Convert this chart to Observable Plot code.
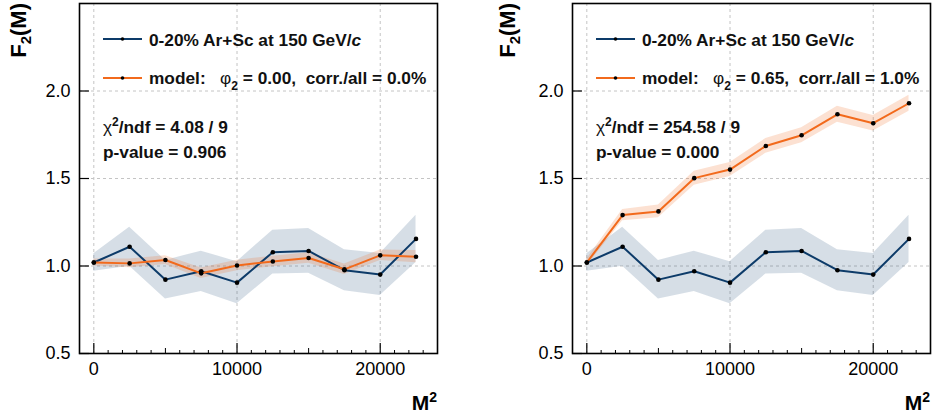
<!DOCTYPE html>
<html>
<head>
<meta charset="utf-8">
<script src="https://cdn.jsdelivr.net/npm/d3@7"></script>
<script src="https://cdn.jsdelivr.net/npm/@observablehq/plot@0.6"></script>
<style>
  html, body { margin: 0; padding: 0; background: #fff; }
  #wrap { position: relative; width: 933px; height: 417px; overflow: hidden; background: #fff; }
  #wrap svg { position: absolute; top: 0; }
  text { font-family: "Liberation Sans", Arial, Helvetica, sans-serif; }
</style>
</head>
<body>
<div id="wrap"></div>
<script>
// ---- data ----
const mSquared = [0, 2500, 5000, 7500, 10000, 12500, 15000, 17500, 20000, 22500];
const dataF2   = [1.02, 1.11, 0.922, 0.97, 0.905, 1.079, 1.086, 0.976, 0.951, 1.155];
const dataErr  = [0.05, 0.112, 0.11, 0.115, 0.12, 0.125, 0.128, 0.117, 0.12, 0.135];

const modelF2_phi000  = [1.02, 1.015, 1.034, 0.958, 1.003, 1.026, 1.046, 0.981, 1.061, 1.053];
const modelErr_phi000 = [0.02, 0.025, 0.025, 0.03, 0.03, 0.03, 0.03, 0.03, 0.03, 0.035];

const modelF2_phi065  = [1.02, 1.291, 1.312, 1.502, 1.551, 1.686, 1.747, 1.867, 1.816, 1.930];
const modelErr_phi065 = [0.02, 0.032, 0.036, 0.04, 0.04, 0.042, 0.043, 0.046, 0.044, 0.046];

const xMajorTicks = [0, 10000, 20000];
const xMidTicks = [5000, 15000];
const xMinorTicks = d3.range(-1000, 24001, 1000).filter(v => v % 5000 !== 0);
const yTicks = [0.5, 1.0, 1.5, 2.0];
const yGrid = [1.0, 1.5, 2.0];

const panels = [
  {
    model: modelF2_phi000, modelErr: modelErr_phi000,
    phi: "0.00", corr: "0.0%", chi2: "4.08 / 9", pval: "0.906",
    left: 0, width: 466, marginLeft: 79, marginRight: 29, yLabelX: 26
  },
  {
    model: modelF2_phi065, modelErr: modelErr_phi065,
    phi: "0.65", corr: "1.0%", chi2: "254.58 / 9", pval: "0.000",
    left: 466, width: 467, marginLeft: 106, marginRight: 3, yLabelX: 49
  }
];

const navy = "#0d3b69";
const orange = "#f26a1c";
const H = 417, MT = 3, MB = 64;
const frameH = H - MT - MB;

const wrap = document.getElementById("wrap");

for (const p of panels) {
  const frameW = p.width - p.marginLeft - p.marginRight;
  const dataRows = mSquared.map((m, i) => ({m, f: dataF2[i], lo: dataF2[i] - dataErr[i], hi: dataF2[i] + dataErr[i]}));
  const modelRows = mSquared.map((m, i) => ({m, f: p.model[i], lo: p.model[i] - p.modelErr[i], hi: p.model[i] + p.modelErr[i]}));

  const svg = Plot.plot({
    width: p.width,
    height: H,
    marginLeft: p.marginLeft,
    marginRight: p.marginRight,
    marginTop: MT,
    marginBottom: MB,
    style: {fontFamily: '"Liberation Sans", Arial, sans-serif', fontSize: "18px", color: "black", background: "white", overflow: "visible"},
    x: {domain: [-1000, 24000]},
    y: {domain: [0.5, 2.5]},
    marks: [
      Plot.ruleX(xMajorTicks, {stroke: "#c4c4c4", strokeDasharray: "3,3", strokeWidth: 1}),
      Plot.ruleY(yGrid, {stroke: "#c4c4c4", strokeDasharray: "3,3", strokeWidth: 1}),
      Plot.areaY(dataRows, {x: "m", y1: "lo", y2: "hi", fill: navy, fillOpacity: 0.17, curve: "linear"}),
      Plot.areaY(modelRows, {x: "m", y1: "lo", y2: "hi", fill: orange, fillOpacity: 0.2, curve: "linear"}),
      Plot.line(dataRows, {x: "m", y: "f", stroke: navy, strokeWidth: 2}),
      Plot.line(modelRows, {x: "m", y: "f", stroke: orange, strokeWidth: 2}),
      Plot.dot(dataRows, {x: "m", y: "f", r: 2.3, fill: "black"}),
      Plot.dot(modelRows, {x: "m", y: "f", r: 2.3, fill: "black"}),
      // inward tick marks
      Plot.tickY(yTicks, {y: d => d, stroke: "black", strokeWidth: 1.2, insetRight: frameW - 10}),
      Plot.tickX(xMajorTicks, {x: d => d, stroke: "black", strokeWidth: 1.2, insetTop: frameH - 10}),
      Plot.tickX(xMidTicks, {x: d => d, stroke: "black", strokeWidth: 1, insetTop: frameH - 5}),
      Plot.tickX(xMinorTicks, {x: d => d, stroke: "black", strokeWidth: 1, insetTop: frameH - 3}),
      // tick labels
      Plot.axisY(yTicks, {tickSize: 0, tickPadding: 9, tickFormat: ".1f", label: null, fontSize: 18}),
      Plot.axisX(xMajorTicks, {tickSize: 0, tickPadding: 9, tickFormat: "d", label: null, fontSize: 18}),
      Plot.frame({stroke: "black", strokeWidth: 1.6})
    ]
  });
  svg.style.left = p.left + "px";
  wrap.appendChild(svg);

  const s = d3.select(svg);
  const x0 = p.marginLeft;
  const xR = p.width - p.marginRight;
  const font = '"Liberation Sans", Arial, sans-serif';

  // y-axis title F2(M)
  const yl = s.append("text")
    .attr("transform", `translate(${p.yLabelX},${MT}) rotate(-90)`)
    .attr("text-anchor", "end")
    .attr("font-family", font).attr("font-weight", "bold").attr("font-size", 22)
    .attr("fill", "black");
  yl.append("tspan").text("F");
  yl.append("tspan").attr("dy", 5).attr("font-size", 15).text("2");
  yl.append("tspan").attr("dy", -5).text("(M)");

  // x-axis title M^2
  const xl = s.append("text")
    .attr("x", xR).attr("y", 410)
    .attr("text-anchor", "end")
    .attr("font-family", font).attr("font-weight", "bold").attr("font-size", 21)
    .attr("fill", "black");
  xl.append("tspan").text("M");
  xl.append("tspan").attr("dy", -8).attr("font-size", 14).text("2");

  // legend
  const legend = [
    {color: navy, y: 39},
    {color: orange, y: 78}
  ];
  for (const l of legend) {
    s.append("line").attr("x1", x0 + 24).attr("x2", x0 + 63).attr("y1", l.y).attr("y2", l.y)
      .attr("stroke", l.color).attr("stroke-width", 2);
    s.append("circle").attr("cx", x0 + 43.5).attr("cy", l.y).attr("r", 1.8).attr("fill", "black");
  }
  const t1 = s.append("text").attr("x", x0 + 70).attr("y", 46).attr("text-anchor", "start")
    .attr("font-family", font).attr("font-weight", "bold").attr("font-size", 17.3).attr("fill", "#111");
  t1.append("tspan").text("0-20% Ar+Sc at 150 GeV/");
  t1.append("tspan").attr("font-style", "italic").text("c");

  const t2 = s.append("text").attr("x", x0 + 70).attr("y", 84).attr("text-anchor", "start")
    .attr("font-family", font).attr("font-weight", "bold").attr("font-size", 17.3).attr("fill", "#111")
    .style("white-space", "pre");
  t2.append("tspan").text("model:   ");
  t2.append("tspan").attr("font-weight", "normal").text("\u03C6");
  t2.append("tspan").attr("dy", 6).attr("font-size", 12).text("2");
  t2.append("tspan").attr("dy", -6).text(` = ${p.phi},  corr./all = ${p.corr}`);

  const t3 = s.append("text").attr("x", x0 + 24).attr("y", 133).attr("text-anchor", "start")
    .attr("font-family", font).attr("font-weight", "bold").attr("font-size", 17.3).attr("fill", "#111");
  t3.append("tspan").attr("font-weight", "normal").text("\u03C7");
  t3.append("tspan").attr("dy", -7).attr("font-size", 12).text("2");
  t3.append("tspan").attr("dy", 7).text(`/ndf = ${p.chi2}`);

  s.append("text").attr("x", x0 + 24).attr("y", 158).attr("text-anchor", "start")
    .attr("font-family", font).attr("font-weight", "bold").attr("font-size", 17.3).attr("fill", "#111")
    .text(`p-value = ${p.pval}`);
}
</script>
</body>
</html>
